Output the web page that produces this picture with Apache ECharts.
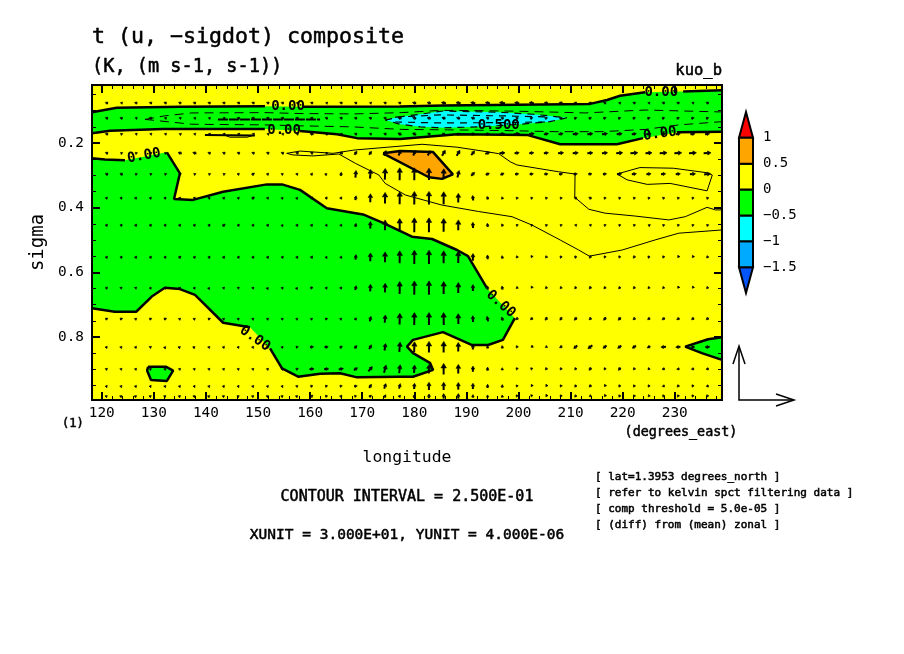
<!DOCTYPE html>
<html>
<head>
<meta charset="utf-8">
<style>html,body{margin:0;padding:0;background:#fff}#main{width:904px;height:654px}</style>
<script src="https://cdn.jsdelivr.net/npm/echarts@6/dist/echarts.min.js"></script>
</head>
<body>
<div id="main"></div>
<script>
// axis ticks
var lonMajor = [120,130,140,150,160,170,180,190,200,210,220,230];
var lonMinor = [120,122,124,126,128,130,132,134,136,138,140,142,144,146,148,150,152,154,156,158,160,162,164,166,168,170,172,174,176,178,180,182,184,186,188,190,192,194,196,198,200,202,204,206,208,210,212,214,216,218,220,222,224,226,228,230,232,234,236,238];
var sigmaMajor = [0.2,0.4,0.6,0.8];
var sigmaMinor = [0.05,0.1,0.15,0.25,0.3,0.35,0.45,0.5,0.55,0.65,0.7,0.75,0.85,0.9,0.95];
var colorLevels = [-1.5,-1,-0.5,0,0.5,1];

// contours, [lon, sigma]
var zeroTopA = [[118.13,0.105],[122.87,0.091],[135.02,0.088],[151.34,0.086]];
var zeroTopB = [[158.64,0.088],[177.26,0.087],[185.52,0.084],[213.74,0.079],[217,0.067],[219.5,0.054],[224.3,0.043]];
var zeroTopC = [[231.6,0.041],[239.06,0.037]];
var zeroBotA = [[118.13,0.17],[121.6,0.162],[131.76,0.157],[151.3,0.157]];
var zeroBotB = [[158.06,0.163],[165.16,0.173],[169,0.185],[177.26,0.188],[182.45,0.181],[188.2,0.173],[201.64,0.175],[208,0.204],[218.9,0.204],[223.9,0.185]];
var zeroBotC = [[230.4,0.167],[239.06,0.165]];
var mainA = [[118.13,0.247],[120.6,0.251],[124.46,0.253]];
var mainB = [[132.5,0.229],[135,0.294],[133.87,0.373],[137.5,0.376],[143.3,0.351],[151.7,0.328],[154.6,0.328],[158.06,0.345],[163.2,0.402],[170.15,0.421],[174.1,0.448],[179.55,0.49],[183.4,0.497],[188.2,0.531],[190.3,0.55],[193.95,0.649]];
var mainC = [[199.3,0.742],[197,0.809],[194.15,0.825],[191.1,0.825],[185.5,0.785],[179.75,0.809],[178.6,0.83],[179.75,0.85],[183,0.88],[183.6,0.902],[179.75,0.923],[177.26,0.923],[169,0.925],[165.75,0.912],[161.9,0.914],[157.7,0.923],[154.6,0.897],[152.3,0.835]];
var mainD = [[148.45,0.77],[143.3,0.756],[137.9,0.67],[135,0.652],[132.1,0.648],[129.6,0.675],[126.6,0.722],[122.5,0.722],[118.13,0.711]];
var islandLeft = [[128.9,0.892],[132.3,0.892],[133.7,0.904],[132.5,0.936],[129.45,0.933],[128.7,0.904],[128.9,0.892]];
var islandRight = [[239.06,0.871],[235.2,0.85],[232,0.83],[236.4,0.807],[239.06,0.801]];
var warmPatch = [[174,0.232],[177.26,0.225],[183.6,0.228],[187.4,0.297],[185.3,0.311],[182.8,0.306],[174,0.232]];
var coldPatch = [[174.4,0.129],[177.26,0.119],[181.1,0.111],[185.5,0.101],[196.45,0.105],[202.8,0.111],[209.3,0.122],[206,0.134],[200.3,0.142],[192.6,0.15],[185.5,0.153],[181.1,0.15],[177.26,0.142],[174.4,0.129]];
var thinTop = [[155.5,0.232],[158.06,0.225],[164.4,0.232],[168.35,0.222],[173.4,0.215],[181.5,0.204],[188.2,0.213],[193.95,0.227],[196.2,0.233],[198.4,0.258],[199.7,0.268],[207.7,0.289],[210.85,0.296],[210.8,0.368],[213.5,0.405],[216.6,0.417],[222.4,0.426],[228.85,0.438],[232,0.428],[236.2,0.399],[237.8,0.407],[239.06,0.407]];
var thinLow = [[155.5,0.232],[156.7,0.237],[160.55,0.24],[165.5,0.234],[168.7,0.263],[173.2,0.299],[174.4,0.325],[178.3,0.361],[185.3,0.392],[192.35,0.412],[198.75,0.428],[202.6,0.454],[208,0.5],[211.55,0.531],[213.6,0.55],[219.9,0.531],[226.2,0.5],[230.75,0.479],[239.06,0.469]];
var thinLoop = [[218.9,0.296],[223.3,0.276],[229.7,0.278],[236.2,0.292],[237.2,0.299],[236.2,0.348],[229.1,0.325],[224.7,0.328],[220.85,0.314],[218.9,0.296]];
var sliverThick = [[139.8,0.175],[149.4,0.177]];
var sliverThin = [[143.6,0.176],[144.6,0.182],[147.9,0.182],[149,0.177]];
var dashSliver = [[142.3,0.127],[161.9,0.127]];
var dashUpper = [[128.3,0.127],[132.1,0.116],[137.3,0.107],[151.3,0.106],[158.45,0.109],[168.6,0.11],[177.6,0.106],[185.3,0.099],[193,0.1],[200.7,0.102],[212.8,0.107],[224.3,0.098],[239.06,0.104]];
var dashLower = [[128.3,0.127],[137.3,0.142],[151.3,0.144],[158.45,0.147],[168,0.15],[177.6,0.158],[190.3,0.16],[198.75,0.162],[207,0.165],[216,0.165],[224.3,0.158],[230.8,0.144],[239.06,0.134]];
var dashInnerA = [[176.3,0.12],[184.95,0.113],[196.45,0.116],[205.1,0.119]];
var dashInnerB = [[176.3,0.135],[184.95,0.138],[196.45,0.137],[205.1,0.135]];

// contour labels
var labelLon = [155.75,155,128.1,227.4,227.15,196.2,149.4,196.6];
var labelSigma = [0.086,0.16,0.24,0.042,0.172,0.144,0.805,0.698];
var labelText = ['0.00','0.00','0.00','0.00','0.00','0.500','0.00','0.00'];
var labelAngle = [0,0,10,0,8,0,-35,-42];

// vector grid
var gridLon = [120.94,123.75,126.56,129.38,132.19,135,137.81,140.63,143.44,146.25,149.06,151.88,154.69,157.5,160.31,163.13,165.94,168.75,171.56,174.38,177.19,180,182.81,185.63,188.44,191.25,194.06,196.88,199.69,202.5,205.31,208.13,210.94,213.75,216.56,219.38,222.19,225,227.81,230.63,233.44,236.25];
var gridSigma = [0.076,0.123,0.172,0.231,0.296,0.37,0.454,0.553,0.648,0.744,0.831,0.899,0.952,0.983];

// u, m s-1
var uWind = [
[-1,-.5,-1,-1,-1,-1,-1,-1,-1,-1,-1,-1,-1,-.5,-1,-.5,-1,-1,-.5,-1,-1,-1.5,-1.5,-2,-2,-2,-2,-2.5,-2,-2,-1.5,-1.5,-1,-1,-1,-.5,-1,-.5,-1,-1,-.5,-1],
[-1,-1,-.5,-1,-.5,-.5,-.5,-.5,-.5,-1,-1,-1,-1,-1,-1,-1,-1,-1,-1,-1,-1.5,-1.5,-1.5,-1.5,-1.5,-1.5,-1,-1,-1,1,1,1,1,1,1,1,1,1,1,1,1,1],
[-1,-.5,-.5,-.5,-.5,-.3,-.5,-.5,-.5,-.5,-.5,-.5,-.5,-.5,-1.5,-1,-.5,-1,-.5,-1,-1.5,-1.5,-1,1,1,1.5,1.5,2,2.5,2.5,2,2,2.5,2.5,2.5,2.5,2,2,2,2,2,2],
[-1,-.5,-.5,-.5,-.5,-1.5,-1.5,-1,-1,-1,-1,-1,-1,-1,-1,-.5,-1.5,1,1,1,1,1,1,1.5,1.5,1.5,2,2.5,2,2,2,2.5,2.5,2.5,2.5,3,3.5,3,3.5,3.5,3.5,3.5],
[-1,-1,-.5,-.5,-.5,-.5,-.5,-.5,-.5,.5,1,.5,.5,.5,.5,.2,.2,.3,.3,.2,.05,.05,.05,.2,.8,1.5,1.5,1.5,1.5,1.5,1.5,1.5,1.5,1.5,1.5,2,2,2,2,2,2.5,3],
[.5,.5,.5,.5,.5,.5,.5,.5,.5,.5,1,.5,.3,.3,.5,.5,.5,.3,.1,.05,.05,.05,.05,.05,.05,-.2,-.5,-.3,-.5,-.5,-.5,-.5,-1,-1,-.5,-.5,-.5,-.5,-.5,-.5,-.5,-.5],
[.5,.5,.5,.5,.5,.5,.5,.5,1,.5,.5,.5,.2,.5,.5,.3,.3,.2,.1,.05,.05,.05,.05,.05,.05,-.1,-.2,-.5,-.5,-.4,-.5,-.5,-.5,-.5,-.5,-.5,-.5,-.3,-.5,-.5,-.5,-.5],
[.5,.5,.5,.5,.5,.8,.5,.5,.5,.5,.5,.5,.5,.5,.5,.3,.3,.2,.1,.05,.05,.05,.05,.05,.05,.05,-.1,-.2,-.5,-.1,-.5,-.3,-.3,-.5,-.3,-.3,-.5,-.3,-.3,-.1,-.1,-.5],
[.5,.5,.5,.3,.4,.4,.3,.1,.4,.5,.4,.1,.4,.1,1,.5,.4,.5,.2,.1,.05,.05,.05,.05,.05,.05,-.1,-.2,-.5,-.1,-.5,-.5,-.5,-.6,-.6,-.6,-.5,-.5,-.5,-.1,-.1,-.5],
[.8,1,.5,.8,1,.5,.5,.8,.5,.5,.5,.5,.5,.5,.5,.8,.5,.5,.5,.3,.1,.1,.05,-.1,-.1,-.1,-.5,-.5,-.8,-.8,-.8,-.8,-1,-.8,-1,-1,-.8,-.8,-1,-1,-.8,-.8],
[.3,.3,.3,.5,.1,.1,.1,.3,.3,.3,.3,.3,.3,.8,1.5,1.5,1,1,1,.5,.4,.2,.05,.05,.05,.05,-.1,-.1,-.5,-.1,-.5,-1,-1.5,-2,-1.5,-1.5,-1.5,-1.2,-2.2,-2,-1.5,-2],
[.5,.4,.4,.4,.4,.4,.4,.4,.4,.4,.4,.4,.4,.8,2,2,2,1.5,1.8,1,.5,.3,.2,.05,.05,.05,.05,.05,-.2,-.2,-.5,-.5,-.5,-.8,-.5,-.8,-.5,-.5,-1,-1,-1,-1],
[.3,.3,.3,.3,.3,.3,.3,.3,.3,.3,.3,.3,.3,.5,.8,.8,.8,1.2,1,.8,.5,.2,.05,.05,.05,.05,.05,.05,-.2,-.1,-.1,-.3,-.5,-.8,-.1,-.4,-.4,-.4,-.8,-.6,-.3,-.8],
[.3,.3,.3,.3,.3,.3,.3,.3,.3,.3,.3,.3,.3,.3,.8,.8,.5,.5,.8,.5,.5,.3,.1,.05,.05,.05,-.1,-.1,-.3,-.1,-.1,-.3,-.5,-.5,-.1,-.4,-.4,-.3,-.3,-.3,-.3,-.3]
];

// -sigdot, 1e-6 s-1
var wWind = [
[.05,.02,.05,.05,.05,.05,.05,.05,.05,.05,.05,.05,.05,.02,.05,.02,.05,.05,.02,.05,.05,.05,.05,.05,.05,.05,.05,.05,.05,.05,.05,.05,.05,.05,.05,.02,.05,.02,.05,.05,.02,.05],
[.05,.05,.02,.05,.02,.02,.02,.02,.02,.05,.05,.05,.05,.05,.05,.05,.05,.05,.05,.05,.05,.05,.05,.05,.05,.05,.05,.05,.05,.05,.05,.05,.05,.05,.05,.05,.05,.05,.05,.05,.05,.05],
[.05,.05,.02,.02,.02,.02,.02,.02,.02,.02,.02,.02,.02,.02,.05,.05,.02,.05,.02,.05,.1,.1,.08,.08,.08,.05,.05,.05,.05,.05,.05,.05,.05,.05,.05,.05,.03,.03,.03,.03,.03,.03],
[.05,.05,.05,.05,.05,.05,.05,.05,.05,.05,.05,.05,.05,.05,.05,.05,.05,.2,.2,.3,.3,.3,.3,.35,.35,.25,.1,.03,.03,.03,.03,.03,.03,.03,.03,.03,.03,.03,.03,.03,.03,.03],
[.08,.08,.05,.05,.05,.05,.05,.05,.05,.08,.1,.08,.05,.08,.1,.02,.2,.45,.6,.75,.85,.85,.8,.7,.45,.2,.1,.1,.03,.03,.03,.03,.03,.03,.03,.03,.03,.03,.03,.03,.03,.05],
[.08,.08,.08,.08,.08,.08,.08,.08,.08,.08,.1,.08,.05,.05,.1,.1,.1,.25,.55,.75,.85,.9,.9,.85,.6,.3,.15,.1,.08,.08,.08,.08,.08,.08,.08,.08,.08,.08,.08,.08,.08,.08],
[.1,.1,.1,.1,.1,.1,.1,.1,.1,.1,.1,.1,.05,.1,.1,.1,.1,.2,.45,.7,.9,1,1,.9,.7,.35,.2,.12,.06,.06,.06,.06,.02,.02,.06,.06,.06,.02,.06,.06,.06,.06],
[.1,.1,.1,.1,.1,.1,.1,.1,.1,.1,.1,.1,.1,.1,.12,.08,.1,.3,.55,.7,.85,.95,.95,.85,.8,.45,.25,.15,-.08,-.03,-.08,-.12,-.12,-.12,-.1,-.1,-.12,-.12,-.1,-.02,-.02,-.08],
[.08,.06,.06,.06,.06,.06,.06,.02,.06,.06,.06,.02,.06,.02,.03,.08,.08,.25,.45,.6,.85,.95,.95,.85,.7,.4,.22,.2,-.05,-.02,-.08,-.08,-.1,-.12,-.1,-.1,-.1,-.08,-.08,-.02,-.02,-.08],
[.05,.05,.05,.05,.05,.05,.05,.05,.05,.05,.05,.05,.05,.05,.05,.05,.05,.1,.3,.5,.75,.85,.85,.85,.7,.4,.3,.2,-.1,-.1,-.15,-.15,-.15,-.1,-.15,-.15,-.1,-.1,-.1,-.08,-.1,-.1],
[.05,.05,.05,.05,.02,.01,.01,.05,.05,.05,.05,.05,.05,.03,.03,.03,.08,.15,.25,.45,.65,.7,.75,.75,.6,.3,.15,.15,-.1,-.01,-.05,-.08,-.18,-.2,-.15,-.15,-.15,-.1,-.02,-.02,-.02,-.02],
[.05,.05,.05,.05,.05,.05,.05,.05,.05,.05,.05,.05,.05,.05,.02,.02,.05,.15,.3,.5,.55,.5,.6,.75,.6,.35,.2,.12,-.1,-.1,-.1,-.1,-.1,-.15,-.1,-.15,-.1,-.08,-.02,-.02,-.02,-.02],
[.05,.05,.05,.05,.05,.05,.05,.05,.05,.05,.05,.05,.05,.05,.02,.02,.02,.02,.2,.3,.3,.35,.5,.5,.45,.35,.2,.15,-.1,-.02,-.02,-.1,-.1,-.1,-.02,-.1,-.1,-.1,-.03,-.1,-.1,-.02],
[.03,.03,.03,.03,.03,.03,.03,.03,.03,.03,.03,.03,.03,.03,.1,.02,.1,.02,.1,.15,.1,.2,.25,.3,.3,.15,.1,.1,-.1,-.05,-.02,-.1,-.1,-.05,-.02,-.1,-.1,-.05,-.1,-.1,-.1,-.1]
];

var FONT = '"DejaVu Sans Mono"';
var xMin = 118.125, xMax = 239.0625, yMin = 0.0206, yMax = 0.995;
// key arrows: 30 m s-1 = 55px, 4e-6 s-1 = 54px
var uScale = 55 / 30, wScale = 54 / 4;

var vectors = [];
gridSigma.forEach(function (s, r) {
    gridLon.forEach(function (lon, c) {
        vectors.push([lon, s, uWind[r][c], wWind[r][c]]);
    });
});

var myChart = echarts.init(document.getElementById('main'), null, { renderer: 'canvas' });

function fillSeries(points, color, z) {
    return {
        type: 'custom', silent: true, animation: false, z: z, clip: true,
        data: [[0, 0]],
        renderItem: function (params, api) {
            return {
                type: 'polygon',
                shape: { points: points.map(function (p) { return api.coord(p); }) },
                style: { fill: color }
            };
        }
    };
}

function lineSeries(points, width, dash) {
    return {
        type: 'line', silent: true, animation: false, z: 3, showSymbol: false,
        data: points,
        lineStyle: { color: '#000', width: width, type: dash || 'solid' }
    };
}

function axisX(position, ticks, length, labels) {
    return {
        type: 'value', position: position, min: xMin, max: xMax, z: 10, scale: true,
        splitLine: { show: false },
        axisLine: { onZero: false, lineStyle: { color: '#000', width: 2 } },
        axisTick: { inside: true, length: length, customValues: ticks, lineStyle: { color: '#000', width: length > 5 ? 2 : 1 } },
        axisLabel: labels ? { customValues: ticks, color: '#000', fontFamily: FONT, fontSize: 14.4, margin: 6 } : { show: false }
    };
}

function axisY(position, ticks, length, labels) {
    return {
        type: 'value', position: position, inverse: true, min: yMin, max: yMax, z: 10, scale: true,
        splitLine: { show: false },
        axisLine: { onZero: false, lineStyle: { color: '#000', width: 2 } },
        axisTick: { inside: true, length: length, customValues: ticks, lineStyle: { color: '#000', width: length > 5 ? 2 : 1 } },
        axisLabel: labels ? { customValues: ticks, color: '#000', fontFamily: FONT, fontSize: 14.4, margin: 8 } : { show: false }
    };
}

var xBottom = axisX('bottom', lonMajor, 8, true);
xBottom.name = 'longitude';
xBottom.nameLocation = 'middle';
xBottom.nameGap = 50;
xBottom.nameTextStyle = { color: '#000', fontFamily: FONT, fontSize: 16.4 };

var yLeft = axisY('left', sigmaMajor, 8, true);
yLeft.name = 'sigma';
yLeft.nameLocation = 'middle';
yLeft.nameGap = 33;
yLeft.nameTextStyle = { color: '#000', fontFamily: FONT, fontSize: 19 };

var greenBand = zeroTopA.concat(zeroTopB, zeroTopC, zeroBotC.slice().reverse(), zeroBotB.slice().reverse(), zeroBotA.slice().reverse());
var greenMain = mainA.concat(mainB, mainC, mainD);

function text(str, x, y, size, align) {
    return {
        type: 'text', x: x, y: y, z: 20,
        style: { text: str, fill: '#000', stroke: '#000', lineWidth: 0.5, font: size + 'px ' + FONT, textAlign: align || 'left', textVerticalAlign: 'middle' }
    };
}

function barStops() {
    var stops = [[-2, -1.5, '#0055ff', 'down'], [1, 1.5, '#ff0000', 'up']];
    var colors = ['#00aaff', '#00ffff', '#00ff00', '#ffff00', '#ffa500'];
    for (var i = 0; i < colors.length; i++) {
        stops.push([colorLevels[i], colorLevels[i + 1], colors[i], 'box']);
    }
    return stops;
}

myChart.setOption({
    animation: false,
    backgroundColor: '#fff',
    grid: [
        { left: 92, right: 182, top: 85, height: 315, show: true, backgroundColor: '#ffff00', borderWidth: 0 },
        { left: 739, width: 14, top: 112, height: 181 }
    ],
    xAxis: [
        xBottom,
        axisX('bottom', lonMinor, 4, false),
        axisX('top', lonMajor, 8, false),
        axisX('top', lonMinor, 4, false),
        { gridIndex: 1, type: 'value', min: 0, max: 1, show: false }
    ],
    yAxis: [
        yLeft,
        axisY('left', sigmaMinor, 4, false),
        axisY('right', sigmaMajor, 8, false),
        axisY('right', sigmaMinor, 4, false),
        {
            gridIndex: 1, type: 'value', position: 'right', min: -2, max: 1.5,
            splitLine: { show: false }, axisLine: { show: false }, axisTick: { show: false },
            axisLabel: {
                customValues: colorLevels, color: '#000', fontFamily: FONT, fontSize: 14, margin: 10,
                formatter: function (v) { return String(v).replace('-', '\u2212'); }
            }
        }
    ],
    series: [
        fillSeries(greenBand, '#00ff00', 1),
        fillSeries(greenMain, '#00ff00', 1),
        fillSeries(islandLeft, '#00ff00', 1),
        fillSeries(islandRight, '#00ff00', 1),
        fillSeries(coldPatch, '#00ffff', 1.5),
        fillSeries(warmPatch, '#ffa500', 1.5),
        lineSeries(zeroTopA, 2.5), lineSeries(zeroTopB, 2.5), lineSeries(zeroTopC, 2.5),
        lineSeries(zeroBotA, 2.5), lineSeries(zeroBotB, 2.5), lineSeries(zeroBotC, 2.5),
        lineSeries(mainA, 2.5), lineSeries(mainB, 2.5), lineSeries(mainC, 2.5), lineSeries(mainD, 2.5),
        lineSeries(islandLeft, 2.5), lineSeries(islandRight, 2.5), lineSeries(warmPatch, 2.5),
        lineSeries(thinTop, 1), lineSeries(thinLow, 1), lineSeries(thinLoop, 1),
        lineSeries(sliverThick, 2), lineSeries(sliverThin, 1),
        lineSeries(dashSliver, 2, [10, 1]),
        lineSeries(dashUpper, 1, [9, 6]), lineSeries(dashLower, 1, [9, 6]),
        lineSeries(coldPatch, 1.2, [7, 6]),
        lineSeries(dashInnerA, 1.2, [7, 6]), lineSeries(dashInnerB, 1.2, [7, 6]),
        {
            // wind vectors, centred on the grid point
            type: 'custom', silent: true, animation: false, z: 4, clip: true,
            data: vectors,
            renderItem: function (params, api) {
                var c = api.coord([api.value(0), api.value(1)]);
                var dx = api.value(2) * uScale, dy = -api.value(3) * wScale;
                var len = Math.sqrt(dx * dx + dy * dy);
                var ux = dx / len, uy = dy / len;
                var head = Math.max(2, Math.min(4.5, len * 0.3 + 1.5));
                var half = head * 0.6;
                var tip = [c[0] + dx / 2 + ux * 0.5, c[1] + dy / 2 + uy * 0.5];
                var tail = [c[0] - dx / 2 - ux * 0.5, c[1] - dy / 2 - uy * 0.5];
                var base = [tip[0] - ux * head, tip[1] - uy * head];
                return {
                    type: 'group',
                    children: [
                        { type: 'line', shape: { x1: tail[0], y1: tail[1], x2: base[0], y2: base[1] }, style: { stroke: '#000', lineWidth: 2 } },
                        {
                            type: 'polygon',
                            shape: { points: [tip, [base[0] - uy * half, base[1] + ux * half], [base[0] + uy * half, base[1] - ux * half]] },
                            style: { fill: '#000', stroke: '#000', lineWidth: 0.6 }
                        }
                    ]
                };
            }
        },
        {
            type: 'custom', silent: true, animation: false, z: 6, clip: false,
            data: labelLon.map(function (lon, i) { return [lon, labelSigma[i], i]; }),
            renderItem: function (params, api) {
                var c = api.coord([api.value(0), api.value(1)]);
                var i = api.value(2);
                return {
                    type: 'text', x: c[0], y: c[1], rotation: labelAngle[i] * Math.PI / 180,
                    style: { text: labelText[i], fill: '#000', font: 'bold 14px ' + FONT, textAlign: 'center', textVerticalAlign: 'middle' }
                };
            }
        },
        {
            // colour bar
            type: 'custom', silent: true, animation: false, z: 5, clip: false,
            xAxisIndex: 4, yAxisIndex: 4,
            data: barStops().map(function (b, i) { return [0, b[0], b[1], i]; }),
            renderItem: function (params, api) {
                var b = barStops()[api.value(3)];
                var l = api.coord([0, b[0]]), h = api.coord([1, b[1]]);
                var mid = (l[0] + h[0]) / 2, pts;
                if (b[3] === 'box') pts = [[l[0], l[1]], [h[0], l[1]], [h[0], h[1]], [l[0], h[1]]];
                else if (b[3] === 'up') pts = [[l[0], l[1]], [h[0], l[1]], [mid, h[1]]];
                else pts = [[l[0], h[1]], [h[0], h[1]], [mid, l[1]]];
                return { type: 'polygon', shape: { points: pts }, style: { fill: b[2], stroke: '#000', lineWidth: 2 } };
            }
        }
    ],
    graphic: [
        text('t (u, \u2212sigdot) composite', 92, 37, 21.6),
        text('(K, (m s-1, s-1))', 92, 67, 18.6),
        text('kuo_b', 722, 71, 15.5, 'right'),
        text('(1)', 62, 424, 12),
        text('(degrees_east)', 681, 433, 13.4, 'center'),
        text('CONTOUR INTERVAL = 2.500E-01', 407, 497, 15, 'center'),
        text('XUNIT = 3.000E+01, YUNIT = 4.000E-06', 407, 535, 14.5, 'center'),
        text('[ lat=1.3953 degrees_north ]', 595, 477, 11),
        text('[ refer to kelvin spct filtering data ]', 595, 493, 11),
        text('[ comp threshold = 5.0e-05 ]', 595, 509, 11),
        text('[ (diff) from (mean) zonal ]', 595, 525, 11),
        { type: 'polyline', z: 20, shape: { points: [[739, 347], [739, 400], [793, 400]] }, style: { stroke: '#000', fill: null, lineWidth: 1.5 } },
        { type: 'polyline', z: 20, shape: { points: [[733, 364], [739, 346], [745, 364]] }, style: { stroke: '#000', fill: null, lineWidth: 1.5 } },
        { type: 'polyline', z: 20, shape: { points: [[776, 394], [794, 400], [776, 406]] }, style: { stroke: '#000', fill: null, lineWidth: 1.5 } }
    ]
});
</script>
</body>
</html>
